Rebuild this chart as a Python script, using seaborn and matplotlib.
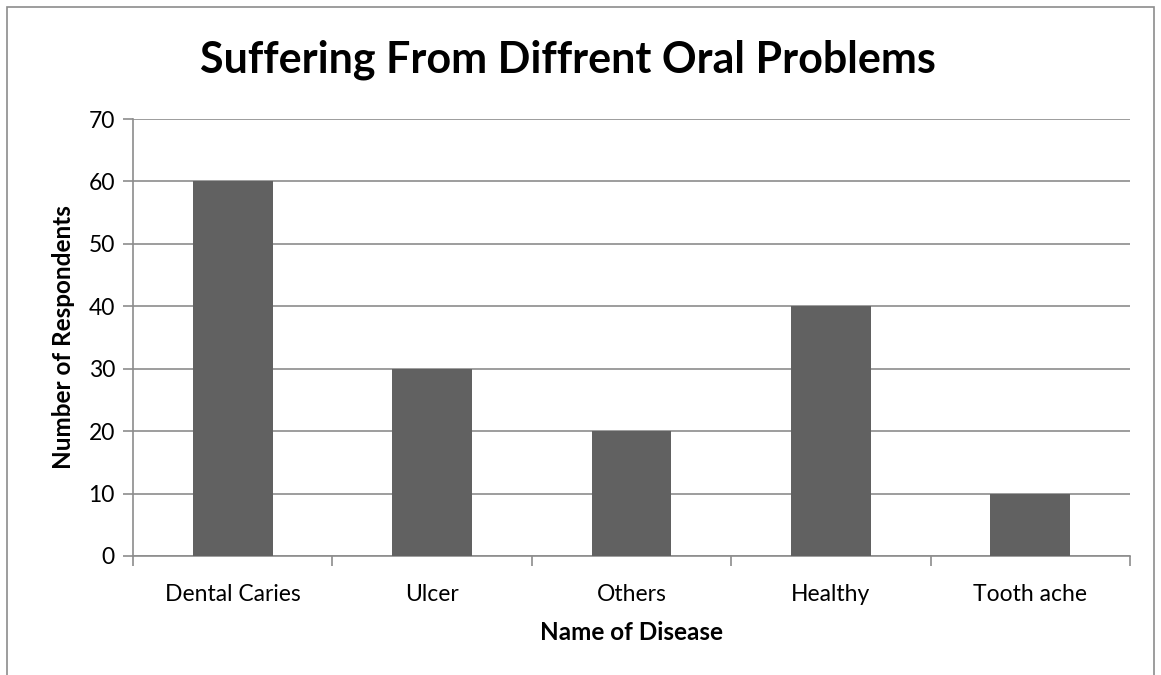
import matplotlib
matplotlib.use("Agg")
import matplotlib.pyplot as plt
import seaborn as sns
import pandas as pd
from matplotlib.patches import Rectangle
from matplotlib.ticker import FixedLocator

# data
diseases = ["Dental Caries", "Ulcer", "Others", "Healthy", "Tooth ache"]
respondents = [60, 30, 20, 40, 10]

data = pd.DataFrame({"disease": diseases, "respondents": respondents})

sns.set_theme(style="white")
plt.rcParams['font.family'] = ['Lato', 'DejaVu Sans']

fig = plt.figure(figsize=(11.61, 6.75), dpi=100)
ax = fig.add_axes([133 / 1161, 1 - 556 / 675, (1130 - 133) / 1161, (556 - 119) / 675])

sns.barplot(x="disease", y="respondents", data=data, color="#616161",
            width=0.4, saturation=1, linewidth=0, ax=ax, zorder=3)

ax.set_ylim(0, 70)
ax.set_xlim(-0.5, len(diseases) - 0.5)
ax.set_yticks(range(0, 71, 10))
ax.yaxis.grid(True, color="#8c8c8c", linewidth=1.2, zorder=0)
ax.xaxis.grid(False)

for side in ["top", "right"]:
    ax.spines[side].set_visible(False)
for side in ["left", "bottom"]:
    ax.spines[side].set_color("#8c8c8c")
    ax.spines[side].set_linewidth(1.2)

ax.tick_params(axis="y", which="major", left=True, length=7, width=1.2,
               color="#8c8c8c", labelsize=16.5, pad=6, labelcolor="black")
ax.tick_params(axis="x", which="major", bottom=False, labelsize=16.5, pad=14,
               labelcolor="black")
ax.xaxis.set_minor_locator(FixedLocator([i - 0.5 for i in range(len(diseases) + 1)]))
ax.tick_params(axis="x", which="minor", bottom=True, length=7, width=1.2,
               color="#8c8c8c")

ax.set_xlabel("Name of Disease", fontweight="bold", fontsize=17.5, labelpad=12,
              color="black")
ax.set_ylabel("Number of Respondents", fontweight="bold", fontsize=17.5, labelpad=10,
              color="black")

fig.text(568 / 1161, 1 - 60 / 675, "Suffering From Diffrent Oral Problems",
         ha="center", va="center", fontsize=31, fontweight="bold", color="black")

# outer chart frame
fig.patches.append(Rectangle((7 / 1161, -0.05), (1154 - 7) / 1161, 1.05 - 7 / 675,
                             transform=fig.transFigure, fill=False,
                             edgecolor="#8c8c8c", linewidth=1.2))

fig.savefig("out.png", dpi=100)
